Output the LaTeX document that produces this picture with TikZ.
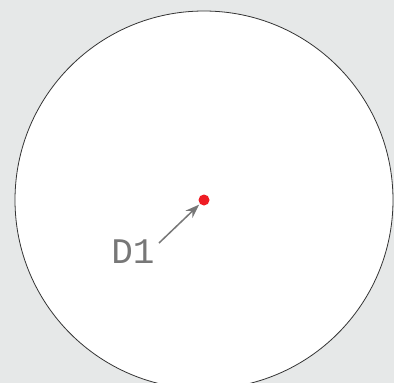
\documentclass[tikz,border=0pt]{standalone}
\usepackage{fontspec}
\newfontfamily\labelfont{Liberation Mono}
\usetikzlibrary{arrows.meta}
\definecolor{bggray}{HTML}{E6E8E8}
\definecolor{labgray}{HTML}{777777}
\definecolor{dotred}{HTML}{EE1C24}
\tikzset{
  bigcircle/.style={draw=black!80, line width=0.8pt, fill=white},
  reddot/.style={circle, fill=dotred, inner sep=0pt, minimum size=11pt},
  lbl/.style={font=\labelfont\fontsize{36}{36}\selectfont, text=labgray, inner sep=0pt, anchor=base},
  pointer/.style={draw=labgray, line width=1.5pt, shorten >=1pt, -{Stealth[length=14pt,width=10pt]}}
}
\begin{document}
\begin{tikzpicture}[x=1pt,y=-1pt]
\fill[bggray] (0,0) rectangle (394,383);
\useasboundingbox (0,0) rectangle (394,383);
\begin{scope}
\clip (0,0) rectangle (394,383);
\draw[bigcircle] (204,200) circle (189);
\end{scope}
\node[reddot] (d) at (204,200) {};
\node[lbl] (t) at (133,263) {D1};
\coordinate (s) at (159,243);
\draw[pointer] (s) -- (d);
\end{tikzpicture}
\end{document}
